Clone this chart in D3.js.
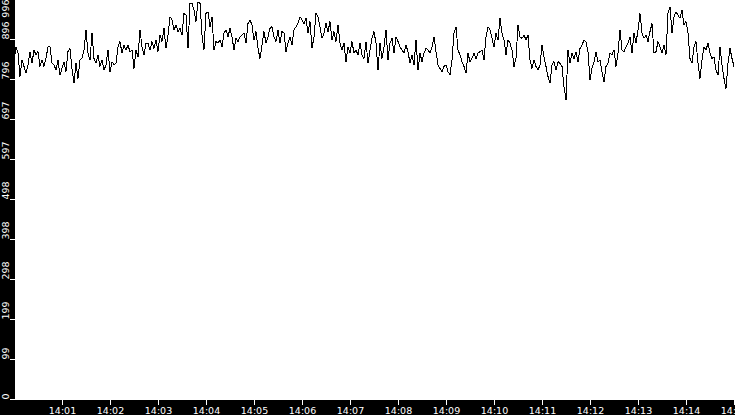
<!DOCTYPE html>
<html>
<head>
<meta charset="utf-8">
<script src="https://cdn.jsdelivr.net/npm/d3@7"></script>
<style>
  body { margin: 0; background: #fff; }
  svg { display: block; }
  .axis text { font-family: "DejaVu Sans", sans-serif; font-size: 9.5px; fill: #fff; }
  .axis line { stroke: #fff; }
</style>
</head>
<body>
<svg id="chart" width="735" height="415"></svg>
<script>
// samples every 2.5 s from 14:00:00 to 14:15:00
const startTime = new Date(2024, 0, 1, 14, 0, 0);
const stepSeconds = 2.5;

const values = [
  840, 877, 861, 803, 844, 828, 811, 832, 865, 836,
  869, 857, 865, 828, 844, 828, 848, 877, 877, 836,
  832, 819, 844, 807, 823, 840, 815, 865, 873, 823,
  786, 836, 798, 844, 848, 869, 919, 861, 844, 911,
  848, 836, 857, 828, 844, 819, 832, 869, 815, 840,
  832, 836, 877, 890, 861, 881, 869, 881, 865, 869,

  823, 869, 852, 919, 877, 857, 886, 886, 869, 890,
  873, 894, 865, 906, 890, 923, 873, 906, 952, 944,
  919, 931, 915, 923, 906, 960, 956, 873, 985, 985,
  969, 940, 989, 985, 906, 869, 960, 964, 927, 952,
  869, 890, 886, 894, 877, 911, 919, 902, 923, 902,
  869, 898, 890, 902, 906, 911, 886, 935, 944, 931,

  894, 915, 873, 848, 881, 915, 886, 902, 923, 927,
  902, 890, 919, 886, 915, 911, 865, 886, 902, 881,
  919, 927, 935, 952, 944, 935, 948, 911, 940, 873,
  902, 960, 952, 927, 898, 911, 935, 915, 940, 894,
  915, 890, 931, 886, 869, 886, 840, 877, 861, 890,
  861, 869, 857, 886, 857, 848, 890, 836, 869, 898,

  915, 886, 819, 886, 848, 877, 919, 844, 886, 898,
  861, 902, 890, 877, 869, 861, 881, 865, 836, 857,
  832, 894, 819, 861, 840, 861, 873, 869, 861, 877,
  902, 865, 832, 823, 815, 828, 832, 815, 807, 844,
  911, 927, 869, 857, 840, 828, 811, 861, 840, 848,
  861, 848, 861, 865, 869, 844, 902, 927, 919, 898,

  877, 911, 894, 948, 911, 894, 857, 894, 886, 869,
  828, 848, 931, 902, 898, 906, 894, 906, 844, 823,
  844, 828, 819, 832, 881, 852, 828, 803, 786, 832,
  840, 819, 840, 836, 828, 778, 744, 869, 836, 861,
  848, 865, 840, 873, 881, 894, 890, 865, 794, 823,
  840, 865, 840, 844, 815, 790, 828, 836, 861, 857,

  869, 828, 861, 919, 869, 865, 877, 886, 902, 861,
  911, 886, 919, 960, 911, 898, 906, 890, 915, 935,
  861, 865, 890, 877, 861, 881, 857, 960, 977, 911,
  952, 964, 956, 948, 969, 931, 940, 911, 848, 836,
  877, 890, 836, 798, 844, 877, 869, 886, 861, 848,
  852, 819, 807, 877, 832, 798, 773, 836, 873, 848,
  828
];

const xTickLabels = ["14:01", "14:02", "14:03", "14:04", "14:05", "14:06", "14:07", "14:08",
  "14:09", "14:10", "14:11", "14:12", "14:13", "14:14", "14:15"];

const yTicks = [0, 99.6, 199.2, 298.8, 398.4, 498, 597.6, 697.2, 796.8, 896.4, 996];
const yTickLabels = ["0", "99", "199", "298", "398", "498", "597", "697", "796", "896", "996"];

const svg = d3.select("#chart");
const width = +svg.attr("width");
const height = +svg.attr("height");
const left = 15, bottom = 400;

const timeAt = i => new Date(startTime.getTime() + i * stepSeconds * 1000);
const endTime = new Date(startTime.getTime() + 15 * 60 * 1000);

const x = d3.scaleTime()
    .domain([startTime, endTime])
    .range([14, 734]);

const y = d3.scaleLinear()
    .domain([0, 996])
    .range([399, -1]);

svg.append("clipPath")
    .attr("id", "plot-clip")
  .append("rect")
    .attr("x", left)
    .attr("y", 0)
    .attr("width", width - left)
    .attr("height", bottom);

const line = d3.line()
    .x((d, i) => x(timeAt(i)))
    .y(d => y(d));

svg.append("path")
    .datum(values)
    .attr("clip-path", "url(#plot-clip)")
    .attr("d", line)
    .attr("fill", "none")
    .attr("stroke", "#000")
    .attr("stroke-width", 1)
    .attr("shape-rendering", "crispEdges");

// black axis bands
svg.append("rect")
    .attr("x", 0).attr("y", 0)
    .attr("width", left).attr("height", height)
    .attr("fill", "#000");
svg.append("rect")
    .attr("x", 0).attr("y", bottom)
    .attr("width", width).attr("height", height - bottom)
    .attr("fill", "#000");

// x axis
const parseTick = d3.timeParse("%H:%M");
const xTickDates = xTickLabels.map(s => {
    const t = parseTick(s);
    return new Date(startTime.getFullYear(), startTime.getMonth(), startTime.getDate(), t.getHours(), t.getMinutes());
});

const xAxis = svg.append("g")
    .attr("class", "axis")
    .attr("transform", `translate(0,${bottom})`)
    .call(d3.axisBottom(x)
        .tickValues(xTickDates)
        .tickSize(5)
        .tickPadding(2)
        .tickFormat((d, i) => xTickLabels[i]));
xAxis.select(".domain").remove();

// y axis, labels turned on their side
const yAxis = svg.append("g")
    .attr("class", "axis")
    .attr("transform", `translate(${left},0)`)
    .call(d3.axisLeft(y)
        .tickValues(yTicks)
        .tickSize(5)
        .tickFormat((d, i) => yTickLabels[i]));
yAxis.select(".domain").remove();
yAxis.selectAll(".tick text")
    .attr("x", null)
    .attr("dy", null)
    .attr("transform", "translate(-6.5,0) rotate(-90)")
    .attr("text-anchor", (d, i) => i === yTicks.length - 1 ? "end" : "start");
</script>
</body>
</html>
